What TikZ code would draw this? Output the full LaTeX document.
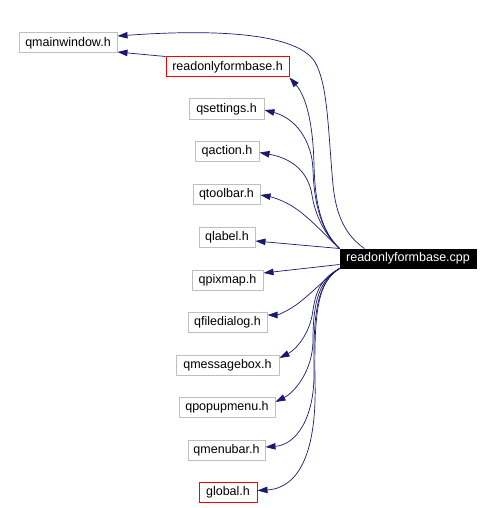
\documentclass[tikz,border=0pt]{standalone}
\usepackage{fontspec}
\setmainfont{Liberation Sans}
\usetikzlibrary{arrows.meta}
\definecolor{edgeblue}{HTML}{191970}
\definecolor{boxgray}{HTML}{BFBFBF}
\definecolor{boxred}{HTML}{FF0000}
\tikzset{
  hdr/.style={draw=boxgray, line width=1pt, minimum height=20pt, inner sep=0pt, font=\fontsize{12.5}{14}\selectfont},
  redhdr/.style={draw=boxred, line width=1pt, minimum height=20pt, inner sep=0pt, font=\fontsize{12.5}{14}\selectfont},
  mainbox/.style={draw=black, fill=black, text=white, line width=1pt, minimum height=19pt, inner sep=0pt, font=\fontsize{12.5}{14}\selectfont},
  dep/.style={draw=edgeblue, line width=0.7pt, -{Triangle[length=10pt,width=6.5pt]}}
}
\begin{document}
\begin{tikzpicture}[x=1pt,y=-1pt]
\useasboundingbox (0,0) rectangle (492,508);
\node[hdr, minimum width=98pt] (qmw) at (68,43) {qmainwindow.h};
\node[redhdr, minimum width=123pt] (rofbh) at (227.5,67) {readonlyformbase.h};
\node[hdr, minimum width=75pt] (qs) at (226.5,109) {qsettings.h};
\node[hdr, minimum width=64pt] (qa) at (227,151.5) {qaction.h};
\node[hdr, minimum width=67pt] (qt) at (226.5,194) {qtoolbar.h};
\node[hdr, minimum width=56pt] (ql) at (227,237) {qlabel.h};
\node[mainbox, minimum width=136pt] (cpp) at (408,258.5) {readonlyformbase.cpp};
\node[hdr, minimum width=71pt] (qp) at (227.5,280) {qpixmap.h};
\node[hdr, minimum width=79pt] (qf) at (227.5,322) {qfiledialog.h};
\node[hdr, minimum width=103pt] (qmb) at (227.5,365) {qmessagebox.h};
\node[hdr, minimum width=96pt] (qpm) at (227,407) {qpopupmenu.h};
\node[hdr, minimum width=77pt] (qmn) at (226.5,450) {qmenubar.h};
\node[redhdr, minimum width=58pt, minimum height=20.5pt] (gl) at (228,492.5) {global.h};

\draw[dep] ([xshift=25pt]cpp.north west) .. controls (345,235) and (336,215) .. (333,185)
  .. controls (328,130) and (328,85) .. (315,62)
  .. controls (295,30) and (200,30) .. ([yshift=7pt]qmw.east);
\draw[dep] (rofbh.north west) -- ([yshift=-9pt]qmw.east);
\draw[dep] (cpp.north west) .. controls (322,232) and (315,205) .. (314,165)
  .. controls (313,120) and (305,95) .. (rofbh.south east);
\draw[dep] (cpp.north west) .. controls (322,232) and (314,205) .. (313,170)
  .. controls (312,140) and (295,118) .. ([yshift=-1pt]qs.east);
\draw[dep] (cpp.north west) .. controls (325,235) and (315,215) .. (312,195)
  .. controls (308,170) and (290,158) .. ([yshift=-1pt]qa.east);
\draw[dep] (cpp.north west) .. controls (328,238) and (310,218) .. (295,208)
  .. controls (285,201) and (272,197) .. ([yshift=-1pt]qt.east);
\draw[dep] (cpp.north west) -- ([yshift=-4pt]ql.east);
\draw[dep] ([yshift=-6pt]cpp.west) -- ([yshift=7pt]qp.east);
\draw[dep] (cpp.south west) .. controls (328,276) and (315,290) .. (300,302)
  .. controls (290,310) and (278,315) .. ([yshift=7pt]qf.east);
\draw[dep] (cpp.south west) .. controls (322,278) and (316,290) .. (313,310)
  .. controls (310,335) and (295,350) .. ([yshift=7pt]qmb.east);
\draw[dep] (cpp.south west) .. controls (320,280) and (313,300) .. (313,340)
  .. controls (313,370) and (295,392) .. ([yshift=5pt]qpm.east);
\draw[dep] (cpp.south west) .. controls (318,282) and (313,310) .. (314,370)
  .. controls (315,420) and (295,445) .. ([yshift=3pt]qmn.east);
\draw[dep] (cpp.south west) .. controls (318,282) and (314,310) .. (315,380)
  .. controls (317,450) and (300,488) .. ([yshift=2pt]gl.east);
\end{tikzpicture}
\end{document}
